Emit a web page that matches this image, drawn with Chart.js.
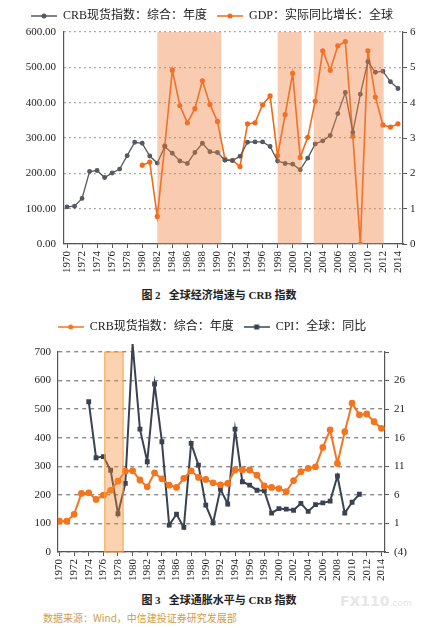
<!DOCTYPE html>
<html>
<head>
<meta charset="utf-8">
<script src="https://cdn.jsdelivr.net/npm/chart.js@4.4.1/dist/chart.umd.min.js"></script>
<style>
body{margin:0;background:#fff;width:424px;height:628px;position:relative;overflow:hidden;font-family:"Liberation Serif","Noto Sans CJK SC",serif}
canvas{position:absolute;left:0}
#chart1{top:0}
#chart2{top:311px}
.cap{position:absolute;left:0;width:424px;text-align:center;font-weight:bold;font-size:11px;color:#222}
#cap1{top:286px;padding-left:14px;box-sizing:border-box}
#cap2{top:591px;padding-left:14px;box-sizing:border-box}
#src{position:absolute;left:43px;top:610px;font-size:10px;color:#d49a4a;font-family:"Noto Sans CJK SC",serif}
#wm{position:absolute;left:340px;top:593px;font-size:14px;font-weight:bold;color:#e6e6e6;font-family:"DejaVu Sans",sans-serif}
#wm span{font-size:9px;font-weight:normal}
</style>
</head>
<body>
<canvas id="chart1" width="424" height="282"></canvas>
<canvas id="chart2" width="424" height="274"></canvas>
<div class="cap" id="cap1">图 2&nbsp;&nbsp;&nbsp;全球经济增速与 CRB 指数</div>
<div class="cap" id="cap2">图 3&nbsp;&nbsp;&nbsp;全球通胀水平与 CRB 指数</div>
<div id="src">数据来源：Wind，中信建投证券研究发展部</div>
<div id="wm">FX110<span>.com</span></div>
<script>
// 年份
const years = [];
for (let y = 1970; y <= 2014; y++) years.push(y);

// 图2：CRB现货指数与全球GDP增速
const crbIndex1 = [105, 107, 129, 205, 208, 188, 201, 212, 250, 288,
                   285, 249, 229, 276, 257, 235, 228, 259, 285, 261,
                   259, 237, 236, 248, 288, 289, 289, 276, 235, 228,
                   226, 210, 243, 283, 292, 307, 369, 429, 316, 424,
                   516, 486, 489, 459, 440];
const gdpGrowth = [null, null, null, null, null, null, null, null, null, null,
                   2.23, 2.32, 0.78, 2.78, 4.92, 3.92, 3.43, 3.83, 4.62, 3.95,
                   3.47, 2.40, 2.37, 2.19, 3.40, 3.43, 3.94, 4.19, 2.50, 3.66,
                   4.83, 2.45, 3.02, 4.04, 5.47, 4.92, 5.61, 5.73, 3.05, 0.00,
                   5.47, 4.16, 3.37, 3.31, 3.40];
const bands1 = [[1982.0, 1990.5], [1998.0, 2001.2], [2002.8, 2012.1]];

// 图3：CRB现货指数与全球CPI
const crbIndex2 = [108, 108, 132, 205, 207, 184, 199, 216, 248, 283,
                   284, 252, 228, 277, 256, 234, 226, 258, 284, 261,
                   254, 242, 235, 240, 287, 287, 287, 269, 231, 226,
                   222, 211, 250, 281, 293, 298, 366, 427, 310, 421,
                   521, 480, 483, 456, 433];
const cpiGlobal = [null, null, null, null, 22.3, 12.5, 12.7, 10.3, 2.7, 8.0,
                   32.4, 17.5, 11.8, 25.4, 15.3, 0.7, 2.6, 0.3, 15.0, 11.2,
                   4.2, 1.1, 7.0, 4.4, 17.5, 8.3, 7.7, 6.8, 6.7, 2.8,
                   3.6, 3.5, 3.3, 4.5, 3.1, 4.3, 4.6, 4.9, 9.3, 2.8,
                   4.7, 6.1, null, null, null];
const bands2 = [[1976.2, 1978.7]];

const xTicks = years.filter(y => y % 2 === 0);
const serif = '"Liberation Serif", "Noto Sans CJK SC", serif';

function toPoints(vals) {
    return years.map((y, i) => ({ x: y, y: vals[i] }));
}

// 图例里的线+点图标
function legendIcon(color, shape) {
    const c = document.createElement('canvas');
    c.width = 26; c.height = 8;
    const g = c.getContext('2d');
    g.strokeStyle = color; g.lineWidth = 1.5;
    g.beginPath(); g.moveTo(0, 4); g.lineTo(26, 4); g.stroke();
    g.fillStyle = color;
    if (shape === 'rect') {
        g.fillRect(10.5, 1.5, 5, 5);
    } else {
        g.beginPath(); g.arc(13, 4, 2.5, 0, Math.PI * 2); g.fill();
    }
    return c;
}

// 阴影区间
const bandPlugin = {
    id: 'bands',
    afterDatasetsDraw(chart, args, opts) {
        const { ctx, chartArea, scales } = chart;
        ctx.save();
        opts.ranges.forEach(r => {
            const x0 = scales.x.getPixelForValue(r[0]);
            const x1 = scales.x.getPixelForValue(r[1]);
            ctx.fillStyle = opts.fill;
            ctx.fillRect(x0, chartArea.top, x1 - x0, chartArea.bottom - chartArea.top);
            if (opts.stroke) {
                ctx.strokeStyle = opts.stroke;
                ctx.lineWidth = 1;
                ctx.strokeRect(x0, chartArea.top, x1 - x0, chartArea.bottom - chartArea.top);
            }
        });
        ctx.restore();
    }
};

// 图例和绘图区之间留点空隙
const legendGap = {
    id: 'legendGap',
    afterInit(chart, args, opts) {
        const lg = chart.legend;
        if (!lg) return;
        const fit = lg.fit;
        lg.fit = function () {
            fit.call(this);
            this.height += opts.gap || 0;
        };
    }
};

function legendOpts(icons) {
    return {
        position: 'top',
        labels: {
            usePointStyle: true,
            pointStyleWidth: 26,
            boxHeight: 8,
            padding: 10,
            color: '#222',
            font: { family: serif, size: 12 },
            generateLabels(chart) {
                const items = Chart.defaults.plugins.legend.labels.generateLabels(chart);
                items.forEach((it, i) => { it.pointStyle = icons[i]; });
                return items;
            }
        }
    };
}

function xAxis(min, max, h) {
    return {
        type: 'linear',
        min: min, max: max,
        afterBuildTicks: s => { s.ticks = xTicks.map(v => ({ value: v })); },
        afterFit: s => { s.height = h; },
        border: { color: '#555', width: 1.2 },
        grid: { drawOnChartArea: false, tickLength: 4, color: '#555' },
        ticks: {
            minRotation: 90, maxRotation: 90, autoSkip: false,
            color: '#222', font: { family: serif, size: 11 },
            callback: v => String(v)
        }
    };
}

const GRAY = '#555a60';
const ORANGE = '#f26a1b';

let chart1 = new Chart(document.getElementById('chart1'), {
    type: 'line',
    data: {
        datasets: [{
            label: 'CRB现货指数：综合：年度',
            data: toPoints(crbIndex1),
            yAxisID: 'y',
            borderColor: GRAY, backgroundColor: GRAY,
            borderWidth: 1.3, pointRadius: 1.8, pointHoverRadius: 1.8
        }, {
            label: 'GDP：实际同比增长：全球',
            data: toPoints(gdpGrowth),
            yAxisID: 'y1',
            borderColor: ORANGE, backgroundColor: ORANGE,
            borderWidth: 1.6, pointRadius: 1.8, pointHoverRadius: 1.8
        }]
    },
    options: {
        responsive: false,
        animation: false,
        layout: { padding: 0 },
        plugins: {
            legend: legendOpts([legendIcon(GRAY), legendIcon(ORANGE)]),
            tooltip: { enabled: false },
            bands: { ranges: bands1, fill: 'rgba(240,125,60,0.40)' },
            legendGap: { gap: 0 }
        },
        scales: {
            x: xAxis(1969.6, 2014.67, 38),
            y: {
                min: 0, max: 600,
                afterFit: s => { s.width = 64; },
                border: { color: '#555', width: 1.2, dash: [1.5, 3.5] },
                grid: { color: '#8f8f8f', lineWidth: 1.3, drawTicks: false },
                ticks: {
                    stepSize: 100, padding: 8, color: '#222',
                    font: { family: serif, size: 11 },
                    callback: v => v.toFixed(2)
                }
            },
            y1: {
                position: 'right',
                min: 0, max: 6,
                afterFit: s => { s.width = 21; },
                border: { color: '#555', width: 1.2 },
                grid: { drawOnChartArea: false, tickLength: 4, color: '#555' },
                ticks: {
                    stepSize: 1, padding: 3, color: '#222',
                    font: { family: serif, size: 11 }
                }
            }
        }
    },
    plugins: [bandPlugin, legendGap]
});

const ORANGE2 = '#f5751f';
const NAVY = '#3a4252';

let chart2 = new Chart(document.getElementById('chart2'), {
    type: 'line',
    data: {
        datasets: [{
            label: 'CRB现货指数：综合：年度',
            data: toPoints(crbIndex2),
            yAxisID: 'y',
            borderColor: ORANGE2, backgroundColor: ORANGE2,
            borderWidth: 2, pointRadius: 2.4, pointHoverRadius: 2.4
        }, {
            label: 'CPI：全球：同比',
            data: toPoints(cpiGlobal),
            yAxisID: 'y1',
            clip: false,
            borderColor: NAVY, backgroundColor: NAVY,
            borderWidth: 2, pointStyle: 'rect', pointRadius: 2, pointHoverRadius: 2
        }]
    },
    options: {
        responsive: false,
        animation: false,
        layout: { padding: 0 },
        plugins: {
            legend: legendOpts([legendIcon(ORANGE2), legendIcon(NAVY, 'rect')]),
            tooltip: { enabled: false },
            bands: { ranges: bands2, fill: 'rgba(246,140,50,0.38)', stroke: '#f5a040' },
            legendGap: { gap: 9 }
        },
        scales: {
            x: xAxis(1969.8, 2014.5, 33),
            y: {
                min: 0, max: 700,
                afterFit: s => { s.width = 58; },
                border: { color: '#555', width: 1.2, dash: [4, 4] },
                grid: { color: '#8a8a8a', lineWidth: 1.4, drawTicks: false },
                ticks: {
                    stepSize: 100, padding: 7, color: '#222',
                    font: { family: serif, size: 11 }
                }
            },
            y1: {
                position: 'right',
                min: -4, max: 31,
                afterFit: s => { s.width = 39; },
                border: { color: '#555', width: 1.2 },
                grid: { drawOnChartArea: false, tickLength: 4, color: '#555' },
                ticks: {
                    stepSize: 5, padding: 5, color: '#222',
                    font: { family: serif, size: 11 },
                    callback: v => v === 31 ? '' : (v < 0 ? '(' + (-v) + ')' : String(v))
                }
            }
        }
    },
    plugins: [bandPlugin, legendGap]
});
</script>
</body>
</html>
